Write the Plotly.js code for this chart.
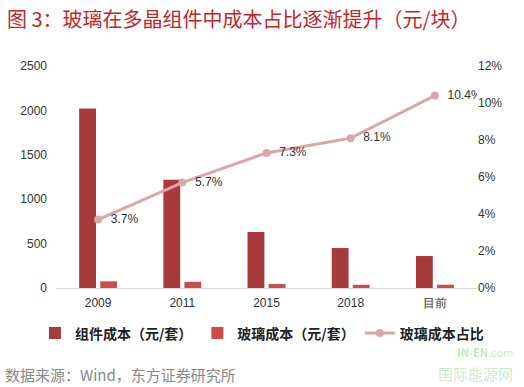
<!DOCTYPE html>
<html><head><meta charset="utf-8">
<script src="https://cdn.plot.ly/plotly-3.0.1.min.js"></script>
<style>html,body{margin:0;padding:0;background:#fff;}#c{width:524px;height:387px;}</style>
</head><body><div id="c"></div>
<script>
const categories = ['2009','2011','2015','2018','目前'];
const moduleCost = [2020, 1220, 630, 450, 360];
const glassCost = [75, 70, 46, 36, 37];
const glassShare = [0.037, 0.057, 0.073, 0.081, 0.104];
const shareLabels = ['3.7%','5.7%','7.3%','8.1%','10.4%'];
const seriesNames = ['组件成本（元/套）','玻璃成本（元/套）','玻璃成本占比'];

const font = '"Noto Sans CJK SC", "Noto Sans", sans-serif';
const tf = {size:12, color:'#333', family:'Liberation Sans, Arial'};
const traces = [
  {type:'bar', x:categories, y:moduleCost, name:seriesNames[0], marker:{color:'#a83a3c'}, yaxis:'y'},
  {type:'bar', x:categories, y:glassCost, name:seriesNames[1], marker:{color:'#cc4c4e'}, yaxis:'y'},
  {type:'scatter', mode:'lines+markers+text', x:categories, y:glassShare, name:seriesNames[2], yaxis:'y2',
   line:{color:'#dca6a9', width:3}, marker:{color:'#dca6a9', size:8},
   text:shareLabels, texttemplate:'  %{text}', textposition:'middle right', textfont:tf}
];
const layout = {
  width:524, height:387,
  margin:{l:56, r:47, t:66, b:99},
  paper_bgcolor:'#fff', plot_bgcolor:'#fff',
  barmode:'group', bargap:0.5, bargroupgap:0.2,
  showlegend:true,
  legend:{orientation:'h', x:-0.05, xanchor:'left', y:-0.205, yanchor:'middle', xref:'paper',
          font:{size:14, color:'#222', family:font, weight:'bold'}, itemwidth:30,
          traceorder:'normal'},
  xaxis:{type:'category', showline:true, linecolor:'#d9d9d9', linewidth:1, ticks:'', showgrid:false,
         tickfont:tf, ticklabelstandoff:4},
  yaxis:{range:[0,2500], dtick:500, showgrid:false, zeroline:false, showline:false, ticks:'',
         tickfont:tf, ticklabelstandoff:8},
  yaxis2:{range:[0,0.12], dtick:0.02, tickformat:'.0%', overlaying:'y', side:'right', showgrid:false, zeroline:false,
          showline:false, ticks:'', tickfont:tf},
  annotations:[
    {text:'图 3：玻璃在多晶组件中成本占比逐渐提升（元/块）', xref:'paper', yref:'paper', x:-0.12, xanchor:'left',
     y:1.215, yanchor:'middle', showarrow:false, font:{size:20, color:'#c0272d', family:font}},
    {text:'数据来源：Wind，东方证券研究所', xref:'paper', yref:'paper', x:-0.125, xanchor:'left',
     y:-0.39, yanchor:'middle', showarrow:false, font:{size:15, color:'#888', family:font}},
    {text:'<b>IN-EN</b>.com', xref:'paper', yref:'paper', x:1.09, xanchor:'right',
     y:-0.29, yanchor:'middle', showarrow:false, font:{size:11, color:'rgba(120,200,120,0.45)', family:font}},
    {text:'国际能源网', xref:'paper', yref:'paper', x:1.09, xanchor:'right',
     y:-0.385, yanchor:'middle', showarrow:false, font:{size:15, color:'rgba(120,200,120,0.4)', family:font}}
  ]
};
Plotly.newPlot('c', traces, layout, {displayModeBar:false, staticPlot:true});
</script></body></html>
